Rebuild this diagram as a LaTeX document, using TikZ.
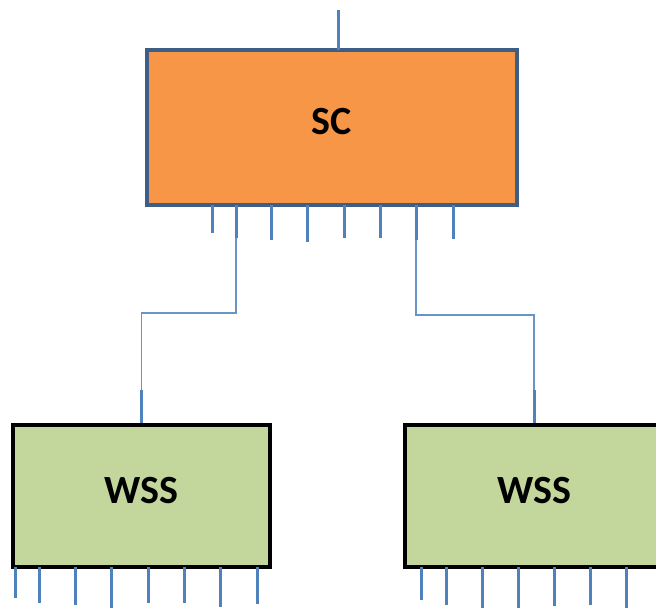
\documentclass[tikz,border=0pt]{standalone}
\usepackage{fontspec}
\setmainfont{Carlito}
\usetikzlibrary{positioning}

\definecolor{scorange}{HTML}{F79646}
\definecolor{scborder}{HTML}{3E5E88}
\definecolor{wssgreen}{HTML}{C3D69B}
\definecolor{pinblue}{HTML}{4F81BD}

\begin{document}
\begin{tikzpicture}[x=1pt, y=-1pt,
    unit/.style={line width=3.5pt, inner sep=0pt, text depth=12pt,
      font=\bfseries\fontsize{40}{42}\selectfont},
    pinline/.style={draw=pinblue, line width=3pt},
    link/.style={draw=pinblue!85, line width=1.5pt}]
  \useasboundingbox (0,0) rectangle (656,608);

  % Switch controller and its port pins
  \node[unit, fill=scorange, draw=scborder, minimum width=370pt, minimum height=155pt] (sc) at (332,127.5) {SC};
  \draw[pinline] (338,50) -- (338,10);
  \foreach \i/\xx/\yy in {1/212/233, 2/236/238, 3/271/240, 4/307/242,
                          5/344/238, 6/380/238, 7/416/240, 8/453/239} {
    \draw[pinline] (\xx,205) -- (\xx,\yy) coordinate (scpin\i);
  }

  % Two WSS units (the right one runs past the page edge)
  \node[unit, fill=wssgreen, draw=black, minimum width=257pt, minimum height=142pt] (wssL) at (141.5,496) {WSS};
  \node[unit, fill=wssgreen, draw=black, minimum width=270pt, minimum height=142pt] (wssR) at (540,496) {WSS\kern12pt};
  \draw[pinline] (wssL.north) -- ++(0,-33) coordinate (wssLtop);
  \draw[pinline] ([xshift=-6pt]wssR.north) -- ++(0,-33) coordinate (wssRtop);
  \foreach \xx/\yy in {15/598, 39/603, 75/605, 111/608, 148/603, 184/603, 220/607, 257/604} {
    \draw[pinline] (\xx,567) -- (\xx,\yy);
  }
  \foreach \xx/\yy in {421/600, 446/605, 482/608, 518/608, 554/606, 590/605, 626/608} {
    \draw[pinline] (\xx,567) -- (\xx,\yy);
  }

  % Links from controller ports to the WSS units
  \draw[link] (scpin2) -- ++(0,75) -| (wssLtop);
  \draw[link] (scpin7) -- ++(0,75) -| (wssRtop);
\end{tikzpicture}
\end{document}
